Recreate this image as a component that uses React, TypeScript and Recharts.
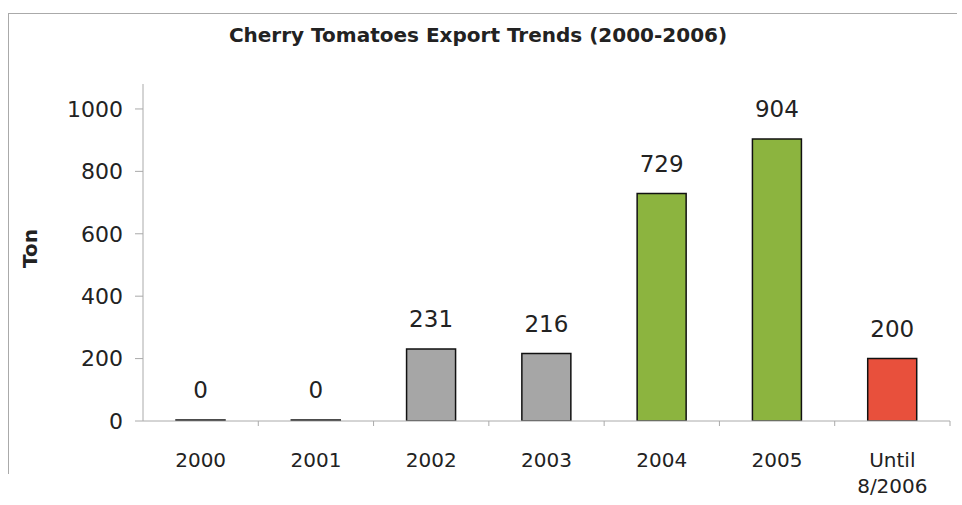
import { Bar, BarChart, Cell, LabelList, XAxis, YAxis } from 'recharts'

const categories = ['2000', '2001', '2002', '2003', '2004', '2005', 'Until 8/2006']
const exportTons = [0, 0, 231, 216, 729, 904, 200]
const yTicks = [0, 200, 400, 600, 800, 1000]

const barFills = ['#a6a6a6', '#a6a6a6', '#a6a6a6', '#a6a6a6', '#8cb43f', '#8cb43f', '#e8503c']

const chartData = categories.map((label, i) => ({ label, tons: exportTons[i] }))

const FONT = '"DejaVu Sans", Arial, sans-serif'
const BAND = (950 - 143) / categories.length

const XTick = (props: any) => {
  const { x, y, payload } = props
  const lines = String(payload.value).split(' ')
  return (
    <g>
      <line x1={x + BAND / 2} y1={y - 8} x2={x + BAND / 2} y2={y - 3} stroke="#aaa" />
      <text x={x} y={y + 38} textAnchor="middle" fontSize={20} fill="#222" fontFamily={FONT}>
        {lines.map((line: string, i: number) => (
          <tspan key={i} x={x} dy={i === 0 ? 0 : 26}>
            {line}
          </tspan>
        ))}
      </text>
    </g>
  )
}

const TonLabel = (props: any) => {
  const { viewBox } = props
  const cx = 30
  const cy = viewBox.y + viewBox.height / 2 - 4
  return (
    <text
      x={cx}
      y={cy}
      transform={`rotate(-90 ${cx} ${cy})`}
      textAnchor="middle"
      dominantBaseline="central"
      fontSize={20}
      fontWeight="bold"
      fill="#222"
      fontFamily={FONT}
    >
      Ton
    </text>
  )
}

export default function App() {
  return (
    <div style={{ position: 'absolute', left: 0, top: 0, width: 962, height: 505, background: '#fff', fontFamily: FONT }}>
      <div
        style={{
          position: 'absolute',
          left: 8,
          top: 13,
          width: 948,
          height: 460,
          borderTop: '1px solid #aaa',
          borderLeft: '1px solid #aaa',
        }}
      />
      <div
        style={{
          position: 'absolute',
          left: 0,
          top: 23,
          width: 956,
          textAlign: 'center',
          fontSize: 20,
          fontWeight: 'bold',
          color: '#222',
        }}
      >
        Cherry Tomatoes Export Trends (2000-2006)
      </div>
      <div style={{ position: 'absolute', left: 0, top: 0 }}>
        <BarChart width={962} height={505} data={chartData} margin={{ top: 84, right: 12, bottom: 0, left: 0 }} barSize={49}>
          <YAxis
            domain={[0, 1080]}
            ticks={yTicks}
            width={143}
            tickSize={8}
            tickMargin={12}
            stroke="#aaa"
            tick={{ fill: '#222', fontSize: 22, fontFamily: FONT }}
            label={<TonLabel />}
            allowDataOverflow
          />
          <XAxis dataKey="label" height={84} stroke="#aaa" tickLine={false} tick={<XTick />} interval={0} />
          <Bar dataKey="tons" stroke="#111" strokeWidth={1.5} minPointSize={1} isAnimationActive={false}>
            {chartData.map((d, i) => (
              <Cell key={d.label} fill={barFills[i]} />
            ))}
            <LabelList dataKey="tons" position="top" offset={22} fill="#222" fontSize={23} fontFamily={FONT} />
          </Bar>
        </BarChart>
      </div>
    </div>
  )
}
